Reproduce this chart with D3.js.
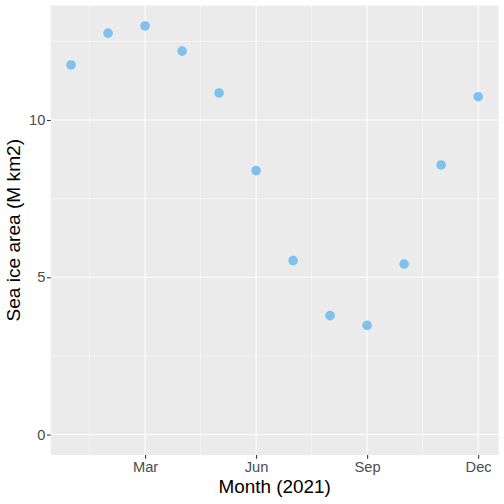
<!DOCTYPE html>
<html>
<head>
<meta charset="utf-8">
<script src="https://cdn.jsdelivr.net/npm/d3@7"></script>
<style>
  body { margin: 0; background: #fff; }
  svg { display: block; font-family: "Liberation Sans", Arial, sans-serif; }
</style>
</head>
<body>
<svg id="chart"></svg>
<script>
// data (sea ice area, million km2, by month of 2021)
const months = ["Jan", "Feb", "Mar", "Apr", "May", "Jun", "Jul", "Aug", "Sep", "Oct", "Nov", "Dec"]
const iceArea = [11.75, 12.76, 12.99, 12.19, 10.86, 8.39, 5.53, 3.78, 3.47, 5.42, 8.57, 10.74]

// x axis: month number, labels every 3rd month
const xTickValues = [3, 6, 9, 12]
const xTickLabels = ["Mar", "Jun", "Sep", "Dec"]
const xMinorValues = [1.5, 4.5, 7.5, 10.5]

const yTickValues = [0, 5, 10]
const yMinorValues = [2.5, 7.5, 12.5]

const dataset = months.map((m, i) => ({ month: i + 1, name: m, area: iceArea[i] }))
const xAccessor = d => d.month
const yAccessor = d => d.area

// chart dimensions
let dimensions = {
  width: 504,
  height: 504,
  margin: { top: 5.5, right: 5.5, bottom: 49, left: 50.7 },
}
dimensions.boundedWidth = dimensions.width - dimensions.margin.left - dimensions.margin.right
dimensions.boundedHeight = dimensions.height - dimensions.margin.top - dimensions.margin.bottom

const svg = d3.select("#chart")
  .attr("width", dimensions.width)
  .attr("height", dimensions.height)

const bounds = svg.append("g")
  .attr("transform", `translate(${dimensions.margin.left}, ${dimensions.margin.top})`)

// scales, ggplot-style 5% expansion (y limits include 0)
const xExt = d3.extent(dataset, xAccessor)
const xPad = (xExt[1] - xExt[0]) * 0.05
const xScale = d3.scaleLinear()
  .domain([xExt[0] - xPad, xExt[1] + xPad])
  .range([0, dimensions.boundedWidth])

const yMax = d3.max(dataset, yAccessor)
const yScale = d3.scaleLinear()
  .domain([-yMax * 0.05, yMax * 1.05])
  .range([dimensions.boundedHeight, 0])

// panel background + grid
bounds.append("rect")
  .attr("width", dimensions.boundedWidth)
  .attr("height", dimensions.boundedHeight)
  .attr("fill", "#EBEBEB")

const grid = bounds.append("g")
grid.selectAll(".ymin").data(yMinorValues).join("line")
  .attr("x1", 0).attr("x2", dimensions.boundedWidth)
  .attr("y1", d => yScale(d)).attr("y2", d => yScale(d))
  .attr("stroke", "#fff").attr("stroke-width", 0.55)
grid.selectAll(".xmin").data(xMinorValues).join("line")
  .attr("y1", 0).attr("y2", dimensions.boundedHeight)
  .attr("x1", d => xScale(d)).attr("x2", d => xScale(d))
  .attr("stroke", "#fff").attr("stroke-width", 0.55)
grid.selectAll(".ymaj").data(yTickValues).join("line")
  .attr("x1", 0).attr("x2", dimensions.boundedWidth)
  .attr("y1", d => yScale(d)).attr("y2", d => yScale(d))
  .attr("stroke", "#fff").attr("stroke-width", 1.1)
grid.selectAll(".xmaj").data(xTickValues).join("line")
  .attr("y1", 0).attr("y2", dimensions.boundedHeight)
  .attr("x1", d => xScale(d)).attr("x2", d => xScale(d))
  .attr("stroke", "#fff").attr("stroke-width", 1.1)

// points
bounds.selectAll("circle")
  .data(dataset)
  .join("circle")
  .attr("cx", d => xScale(xAccessor(d)))
  .attr("cy", d => yScale(yAccessor(d)))
  .attr("r", 4.8)
  .attr("fill", "#7EC0EE")

// axes
const xAxisGenerator = d3.axisBottom(xScale)
  .tickValues(xTickValues)
  .tickFormat((d, i) => xTickLabels[i])
  .tickSize(3.7)
  .tickSizeOuter(0)
  .tickPadding(2.6)

const xAxis = bounds.append("g")
  .attr("transform", `translate(0, ${dimensions.boundedHeight})`)
  .call(xAxisGenerator)

const yAxisGenerator = d3.axisLeft(yScale)
  .tickValues(yTickValues)
  .tickSize(3.7)
  .tickSizeOuter(0)
  .tickPadding(1.6)

const yAxis = bounds.append("g")
  .call(yAxisGenerator)

;[xAxis, yAxis].forEach(ax => {
  ax.select(".domain").remove()
  ax.selectAll(".tick line").attr("stroke", "#333333").attr("stroke-width", 1.07)
  ax.selectAll(".tick text")
    .attr("fill", "#4D4D4D")
    .style("font-size", "14.7px")
    .style("font-family", "'Liberation Sans', Arial, sans-serif")
})

// axis titles
svg.append("text")
  .attr("x", dimensions.margin.left + dimensions.boundedWidth / 2)
  .attr("y", 492.5)
  .attr("text-anchor", "middle")
  .attr("fill", "#000")
  .style("font-size", "18.9px")
  .text("Month (2021)")

svg.append("text")
  .attr("transform", `translate(20, ${dimensions.margin.top + dimensions.boundedHeight / 2}) rotate(-90)`)
  .attr("text-anchor", "middle")
  .attr("fill", "#000")
  .style("font-size", "19.1px")
  .text("Sea ice area (M km2)")
</script>
</body>
</html>
